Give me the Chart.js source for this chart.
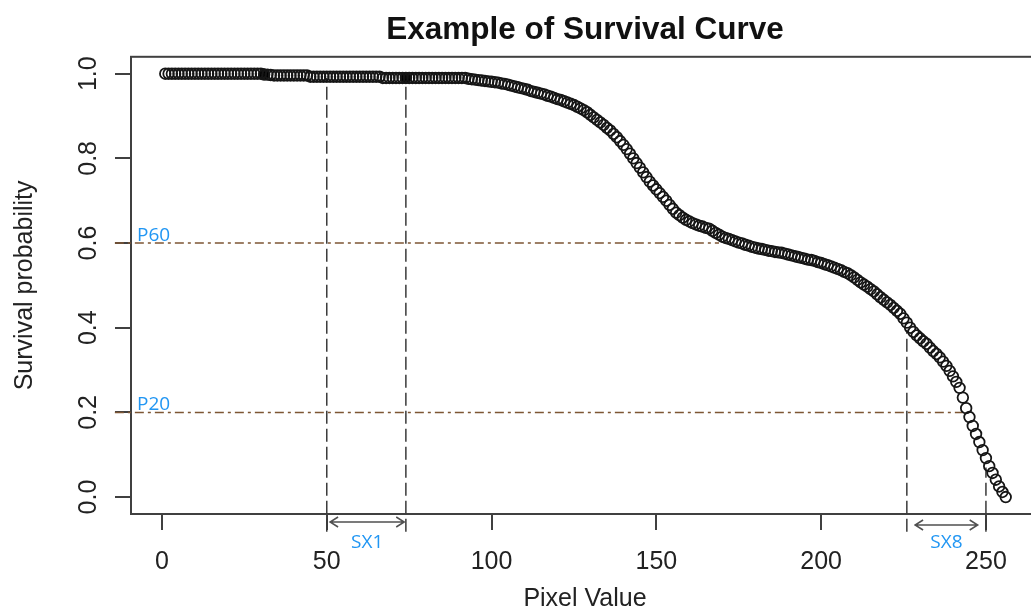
<!DOCTYPE html>
<html>
<head>
<meta charset="utf-8">
<title>Example of Survival Curve</title>
<script src="https://cdn.jsdelivr.net/npm/chart.js@4.4.0/dist/chart.umd.min.js"></script>
<style>
  html, body { margin: 0; padding: 0; background: #fff; overflow: hidden; }
  #wrap { width: 1031px; height: 614px; overflow: hidden; }
</style>
</head>
<body>
<div id="wrap"><canvas id="survival" width="1170" height="614"></canvas></div>
<script>
// Survival probability for pixel values 1..256
const survival = [
  1, 1, 1, 1, 1, 1, 1, 1, 1, 1,
  1, 1, 1, 1, 1, 1, 1, 1, 1, 1,
  1, 1, 1, 1, 1, 1, 1, 1, 1, 1,
  0.998, 0.998, 0.997, 0.996, 0.996, 0.996, 0.996, 0.996, 0.996, 0.996,
  0.996, 0.996, 0.996, 0.996, 0.993, 0.993, 0.993, 0.993, 0.993, 0.993,
  0.993, 0.993, 0.993, 0.993, 0.993, 0.993, 0.993, 0.993, 0.993, 0.993,
  0.993, 0.993, 0.993, 0.993, 0.993, 0.993, 0.990, 0.990, 0.990, 0.990,
  0.990, 0.990, 0.990, 0.990, 0.990, 0.990, 0.990, 0.990, 0.990, 0.990,
  0.990, 0.990, 0.990, 0.990, 0.990, 0.990, 0.990, 0.990, 0.990, 0.990,
  0.990, 0.990, 0.988, 0.987, 0.986, 0.985, 0.984, 0.983, 0.982, 0.981,
  0.980, 0.979, 0.977, 0.976, 0.974, 0.972, 0.970, 0.968, 0.966, 0.964,
  0.962, 0.959, 0.957, 0.955, 0.953, 0.951, 0.948, 0.946, 0.943, 0.940,
  0.938, 0.935, 0.932, 0.929, 0.926, 0.922, 0.918, 0.914, 0.909, 0.903,
  0.897, 0.891, 0.885, 0.879, 0.872, 0.866, 0.858, 0.850, 0.841, 0.832,
  0.822, 0.811, 0.800, 0.789, 0.778, 0.767, 0.756, 0.745, 0.736, 0.727,
  0.718, 0.709, 0.700, 0.690, 0.681, 0.672, 0.666, 0.660, 0.655, 0.651,
  0.647, 0.644, 0.641, 0.639, 0.636, 0.634, 0.629, 0.624, 0.620, 0.615,
  0.612, 0.610, 0.607, 0.604, 0.601, 0.599, 0.596, 0.594, 0.591, 0.589,
  0.587, 0.586, 0.584, 0.582, 0.581, 0.579, 0.578, 0.577, 0.575, 0.573,
  0.571, 0.569, 0.567, 0.565, 0.563, 0.561, 0.560, 0.558, 0.555, 0.553,
  0.550, 0.548, 0.545, 0.542, 0.539, 0.536, 0.532, 0.529, 0.524, 0.519,
  0.513, 0.507, 0.502, 0.497, 0.491, 0.486, 0.479, 0.472, 0.466, 0.460,
  0.454, 0.447, 0.440, 0.433, 0.422, 0.412, 0.400, 0.390, 0.382, 0.375,
  0.368, 0.362, 0.353, 0.345, 0.338, 0.330, 0.320, 0.310, 0.298, 0.285,
  0.272, 0.258, 0.235, 0.210, 0.189, 0.168, 0.149, 0.130, 0.111, 0.092,
  0.073, 0.057, 0.041, 0.025, 0.012, 0.000
];
const pixelValues = survival.map((_, i) => i + 1);

// tick labels
const xTicks = [0, 50, 100, 150, 200, 250];
const yTicks = [0, 0.2, 0.4, 0.6, 0.8, 1.0];

// the two solid dots on the plateau
const filledX = [31, 74];
const filledY = [0.999, 0.990];

// cut-off lines (vertical) and probability levels (horizontal)
const cutoffs = [50, 74, 226, 250];
const cutoffTops = [0.99, 0.99, 0.395, 0.07];
const levels = [0.6, 0.2];
const levelEnds = [169, 243];
const levelLabels = ["P60", "P20"];

// SX spans with their arrows
const spanLabels = ["SX1", "SX8"];
const arrowFrom = [51, 228.5];
const arrowTo = [73.5, 247.5];

Chart.defaults.font.family = "'Liberation Sans', Arial, sans-serif";
Chart.defaults.color = "#222";

const AXIS = "#404040";
const BLUE = "#2196f3";

const datasets = [
  {
    label: "Survival",
    data: pixelValues.map((x, i) => ({ x: x, y: survival[i] })),
    pointRadius: 5.3,
    pointBorderWidth: 1.8,
    pointBorderColor: "#161616",
    pointBackgroundColor: "rgba(0,0,0,0)",
    order: 0
  },
  {
    label: "Solid",
    data: filledX.map((x, i) => ({ x: x, y: filledY[i] })),
    pointRadius: 5.3,
    pointBorderWidth: 1,
    pointBorderColor: "#000",
    pointBackgroundColor: "#000",
    order: 0
  }
];

cutoffs.forEach((c, i) => {
  datasets.push({
    label: "cut" + c,
    data: [{ x: c, y: -0.082 }, { x: c, y: cutoffTops[i] }],
    showLine: true,
    borderColor: "#3a3a3a",
    borderWidth: 1.5,
    borderDash: [13, 5],
    pointRadius: 0,
    clip: false,
    order: 2
  });
});

levels.forEach((l, i) => {
  datasets.push({
    label: levelLabels[i],
    data: [{ x: -14.3, y: l }, { x: levelEnds[i], y: l }],
    showLine: true,
    borderColor: "#7d5634",
    borderWidth: 1.5,
    borderDash: [9, 4, 3, 4],
    pointRadius: 0,
    clip: false,
    order: 2
  });
});

// box, rotated y labels, arrows and blue notes
const extras = {
  id: "extras",
  beforeDatasetsDraw(chart) {
    const { ctx, chartArea: a } = chart;
    ctx.save();
    ctx.strokeStyle = AXIS;
    ctx.lineWidth = 2;
    ctx.strokeRect(a.left, a.top, a.right - a.left, a.bottom - a.top);
    ctx.restore();
  },
  afterDatasetsDraw(chart) {
    const { ctx, chartArea: a } = chart;
    const xs = chart.scales.x;
    const ys = chart.scales.y;

    // y tick labels, written upwards like R does
    ctx.save();
    ctx.font = "25px 'Liberation Sans', Arial, sans-serif";
    ctx.fillStyle = "#222";
    ctx.textAlign = "center";
    ctx.textBaseline = "middle";
    yTicks.forEach(v => {
      ctx.save();
      ctx.translate(89, ys.getPixelForValue(v));
      ctx.rotate(-Math.PI / 2);
      ctx.fillText(v.toFixed(1), 0, 0);
      ctx.restore();
    });
    ctx.restore();

    // P labels
    ctx.save();
    ctx.font = "19px 'Open Sans', 'Noto Sans', sans-serif";
    ctx.fillStyle = BLUE;
    ctx.textAlign = "left";
    ctx.textBaseline = "alphabetic";
    levels.forEach((l, i) => {
      ctx.fillText(levelLabels[i], a.left + 6, ys.getPixelForValue(l) - 2);
    });
    ctx.restore();

    // SX arrows
    ctx.save();
    ctx.strokeStyle = "#505050";
    ctx.lineWidth = 1.5;
    spanLabels.forEach((s, i) => {
      const x1 = xs.getPixelForValue(arrowFrom[i]);
      const x2 = xs.getPixelForValue(arrowTo[i]);
      const y = a.bottom + 8 + i * 3;
      ctx.beginPath();
      ctx.moveTo(x1, y); ctx.lineTo(x2, y);
      ctx.moveTo(x1 + 8, y - 5); ctx.lineTo(x1, y); ctx.lineTo(x1 + 8, y + 5);
      ctx.moveTo(x2 - 8, y - 5); ctx.lineTo(x2, y); ctx.lineTo(x2 - 8, y + 5);
      ctx.stroke();

      ctx.font = "19px 'Open Sans', 'Noto Sans', sans-serif";
      ctx.fillStyle = BLUE;
      ctx.textAlign = "center";
      ctx.textBaseline = "alphabetic";
      ctx.fillText(s, (x1 + x2) / 2, a.bottom + 34);
    });
    ctx.restore();
  }
};

new Chart(document.getElementById("survival"), {
  type: "scatter",
  data: { datasets: datasets },
  plugins: [extras],
  options: {
    responsive: false,
    animation: false,
    plugins: {
      legend: { display: false },
      tooltip: { enabled: false },
      title: {
        display: true,
        text: "Example of Survival Curve",
        color: "#111",
        font: { size: 31.5, weight: "bold" },
        padding: { top: 11, bottom: 8 }
      }
    },
    scales: {
      x: {
        type: "linear",
        min: -9.4,
        max: 266.1,
        afterFit: s => { s.height = 100; },
        afterBuildTicks: s => { s.ticks = xTicks.map(v => ({ value: v })); },
        border: { display: true, color: AXIS, width: 2 },
        grid: { drawOnChartArea: false, drawTicks: true, tickLength: 16, color: AXIS, lineWidth: 2 },
        ticks: { font: { size: 25 }, color: "#222", padding: 17, maxRotation: 0 },
        title: {
          display: true,
          text: "Pixel Value",
          font: { size: 25 },
          color: "#222",
          padding: { top: 0, bottom: 0 }
        }
      },
      y: {
        type: "linear",
        min: -0.04,
        max: 1.04,
        afterFit: s => { s.width = 131; },
        afterBuildTicks: s => { s.ticks = yTicks.map(v => ({ value: v })); },
        border: { display: true, color: AXIS, width: 2 },
        grid: { drawOnChartArea: false, drawTicks: true, tickLength: 16, color: AXIS, lineWidth: 2 },
        ticks: { display: false },
        title: {
          display: true,
          text: "Survival probability",
          font: { size: 25 },
          color: "#222",
          padding: { top: 10, bottom: 0 }
        }
      },
      // empty right-hand axis: keeps the plot box running past the window edge, as in the original
      yRight: {
        type: "linear",
        position: "right",
        min: -0.04,
        max: 1.04,
        afterFit: s => { s.width = 131; },
        border: { display: false },
        grid: { display: false },
        ticks: { display: false }
      }
    }
  }
});
</script>
</body>
</html>
